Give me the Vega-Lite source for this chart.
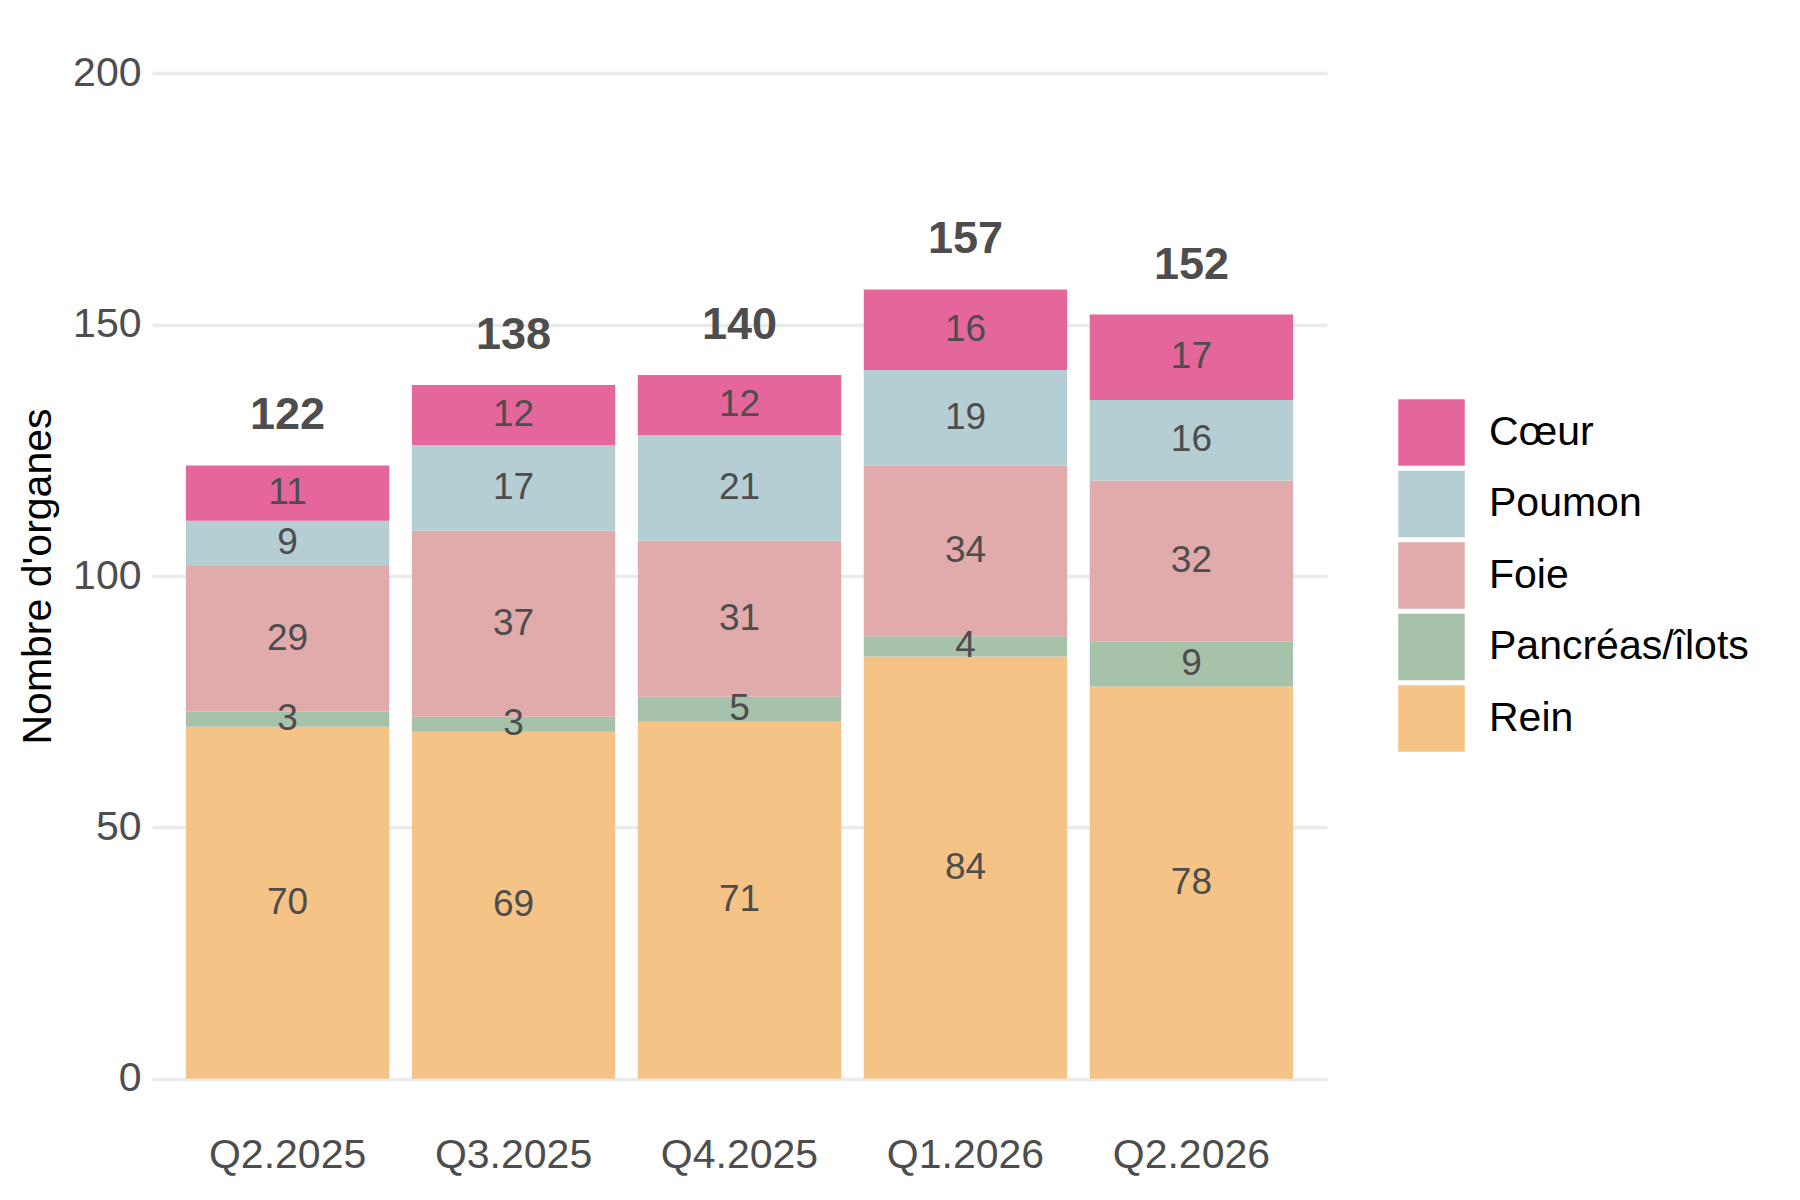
{
  "$schema": "https://vega.github.io/schema/vega-lite/v6.json",
  "autosize": "none",
  "width": 1175,
  "height": 1106,
  "padding": {"left": 152, "top": 23, "right": 473, "bottom": 71},
  "background": "white",
  "config": {
    "view": {"stroke": null},
    "font": "Liberation Sans"
  },
  "data": {
    "values": [
      {"trimestre": "Q2.2025", "organe": "Rein", "n": 70},
      {"trimestre": "Q2.2025", "organe": "Pancréas/îlots", "n": 3},
      {"trimestre": "Q2.2025", "organe": "Foie", "n": 29},
      {"trimestre": "Q2.2025", "organe": "Poumon", "n": 9},
      {"trimestre": "Q2.2025", "organe": "Cœur", "n": 11},
      {"trimestre": "Q3.2025", "organe": "Rein", "n": 69},
      {"trimestre": "Q3.2025", "organe": "Pancréas/îlots", "n": 3},
      {"trimestre": "Q3.2025", "organe": "Foie", "n": 37},
      {"trimestre": "Q3.2025", "organe": "Poumon", "n": 17},
      {"trimestre": "Q3.2025", "organe": "Cœur", "n": 12},
      {"trimestre": "Q4.2025", "organe": "Rein", "n": 71},
      {"trimestre": "Q4.2025", "organe": "Pancréas/îlots", "n": 5},
      {"trimestre": "Q4.2025", "organe": "Foie", "n": 31},
      {"trimestre": "Q4.2025", "organe": "Poumon", "n": 21},
      {"trimestre": "Q4.2025", "organe": "Cœur", "n": 12},
      {"trimestre": "Q1.2026", "organe": "Rein", "n": 84},
      {"trimestre": "Q1.2026", "organe": "Pancréas/îlots", "n": 4},
      {"trimestre": "Q1.2026", "organe": "Foie", "n": 34},
      {"trimestre": "Q1.2026", "organe": "Poumon", "n": 19},
      {"trimestre": "Q1.2026", "organe": "Cœur", "n": 16},
      {"trimestre": "Q2.2026", "organe": "Rein", "n": 78},
      {"trimestre": "Q2.2026", "organe": "Pancréas/îlots", "n": 9},
      {"trimestre": "Q2.2026", "organe": "Foie", "n": 32},
      {"trimestre": "Q2.2026", "organe": "Poumon", "n": 16},
      {"trimestre": "Q2.2026", "organe": "Cœur", "n": 17}
    ]
  },
  "transform": [
    {"calculate": "indexof(['Rein', 'Pancréas/îlots', 'Foie', 'Poumon', 'Cœur'], datum.organe)", "as": "rang"},
    {"stack": "n", "groupby": ["trimestre"], "sort": [{"field": "rang", "order": "ascending"}], "as": ["bas", "haut"]},
    {"calculate": "(datum.bas + datum.haut) / 2", "as": "milieu"}
  ],
  "encoding": {
    "x": {
      "field": "trimestre",
      "type": "nominal",
      "sort": ["Q2.2025", "Q3.2025", "Q4.2025", "Q1.2026", "Q2.2026"],
      "scale": {"paddingInner": 0.1, "paddingOuter": 0.15},
      "axis": {
        "title": null,
        "labelAngle": 0,
        "labelFontSize": 41,
        "labelColor": "#4d4d4d",
        "labelPadding": 6,
        "ticks": false,
        "domain": false,
        "grid": false
      }
    }
  },
  "layer": [
    {
      "mark": {"type": "bar"},
      "encoding": {
        "y": {
          "field": "bas",
          "type": "quantitative",
          "scale": {"domain": [-10, 210], "nice": false, "zero": false},
          "axis": {
            "title": "Nombre d'organes",
            "titleFontSize": 41,
            "titleFontWeight": "normal",
            "titleColor": "#000000",
            "titlePadding": 13,
            "values": [0, 50, 100, 150, 200],
            "labelFontSize": 41,
            "labelColor": "#4d4d4d",
            "labelPadding": 11,
            "ticks": false,
            "domain": false,
            "grid": true,
            "gridColor": "#ebebeb",
            "gridWidth": 3.5
          }
        },
        "y2": {"field": "haut"},
        "color": {
          "field": "organe",
          "type": "nominal",
          "scale": {
            "domain": ["Cœur", "Poumon", "Foie", "Pancréas/îlots", "Rein"],
            "range": ["#e5669a", "#b4ced3", "#e1aaab", "#a7c2ab", "#f4c385"]
          },
          "legend": {
            "title": null,
            "orient": "none",
            "legendX": 1246,
            "legendY": 376,
            "padding": 0,
            "symbolType": "square",
            "symbolSize": 4420,
            "symbolStrokeWidth": 0,
            "symbolOpacity": 1,
            "rowPadding": 4.5,
            "labelOffset": 24,
            "labelFontSize": 41,
            "labelColor": "#000000",
            "labelLimit": 400
          }
        }
      }
    },
    {
      "mark": {"type": "text", "fontSize": 37, "color": "#4d4d4d", "baseline": "middle"},
      "encoding": {
        "y": {"field": "milieu", "type": "quantitative"},
        "text": {"field": "n", "type": "quantitative"}
      }
    },
    {
      "mark": {"type": "text", "fontSize": 45, "fontWeight": "bold", "color": "#4d4d4d", "baseline": "middle", "dy": -50},
      "encoding": {
        "y": {"aggregate": "sum", "field": "n", "type": "quantitative"},
        "text": {"aggregate": "sum", "field": "n", "type": "quantitative"}
      }
    }
  ]
}
